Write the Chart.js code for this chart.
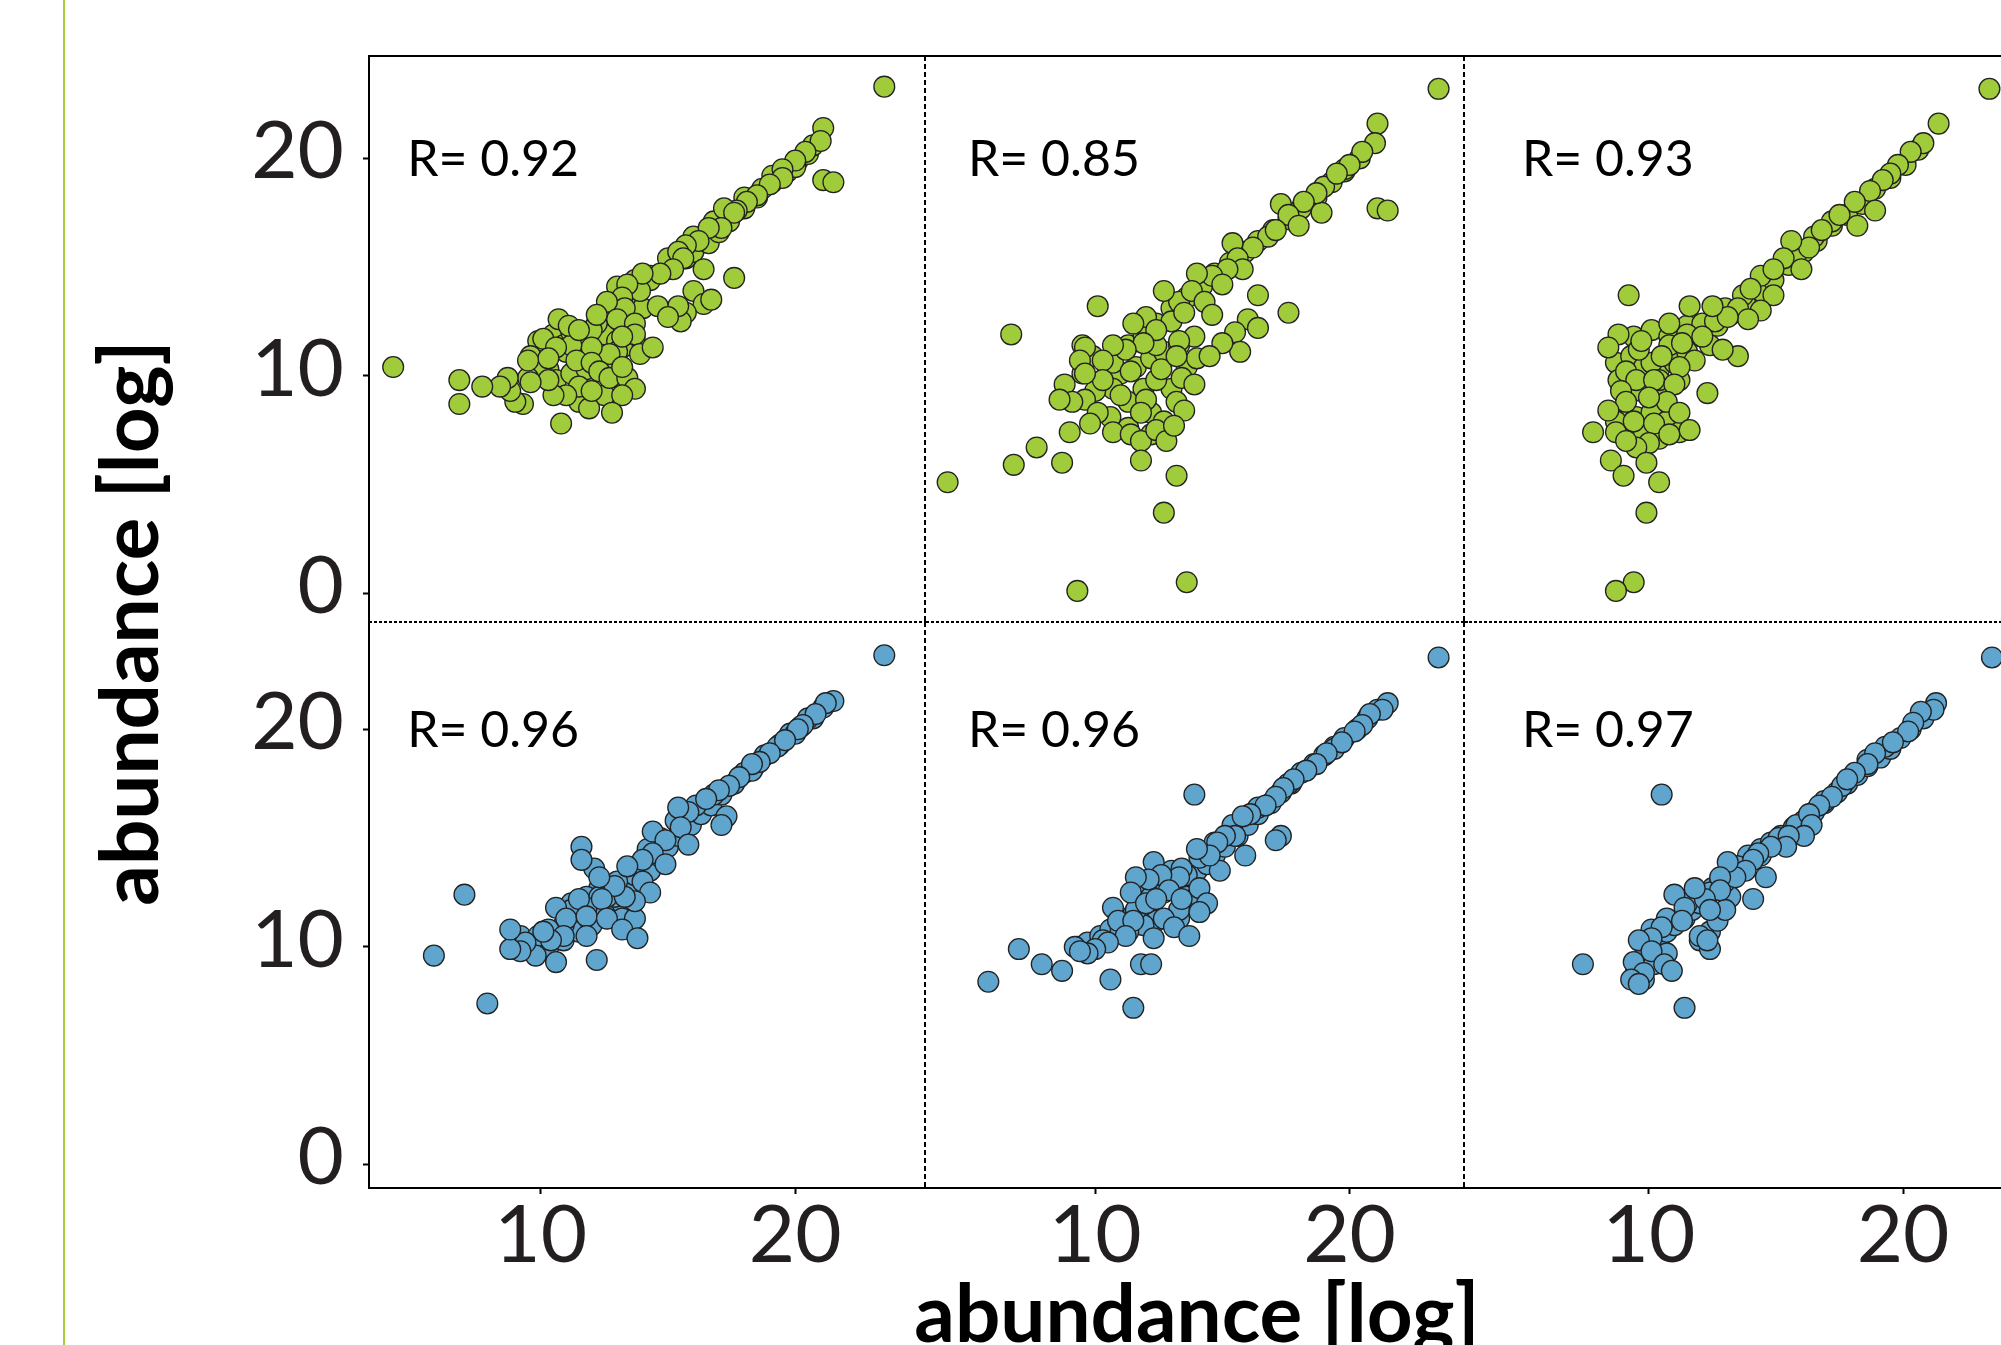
<!DOCTYPE html>
<html lang="en">
<head>
  <meta charset="UTF-8">
  <title>abundance [log]</title>
  <style>
    html, body {
      margin: 0;
      padding: 0;
      background: #fff;
      overflow: hidden;
    }
    body {
      position: relative;
      width: 2001px;
      height: 1345px;
      font-family: Lato, sans-serif;
    }
    .side-rule {
      position: absolute;
      left: 63px;
      top: 0;
      width: 2px;
      height: 1345px;
      background: #a5cd39;
    }
    .panel {
      position: absolute;
    }
    .axis-title {
      position: absolute;
      width: 700px;
      height: 80px;
      font-family: Lato, sans-serif;
      font-weight: 700;
      font-size: 80px;
      line-height: 80px;
      color: #000;
      text-align: center;
      white-space: nowrap;
    }
    #xTitle { left: 847px; top: 1271px; }
    #yTitle { left: -223px; top: 583px; transform: rotate(-90deg); }
  </style>
</head>
<body>
  <div class="side-rule"></div>
  <div class="axis-title" id="xTitle">abundance [log]</div>
  <div class="axis-title" id="yTitle">abundance [log]</div>

<script src="https://cdn.jsdelivr.net/npm/chart.js/dist/chart.umd.min.js"></script>
<script>
  // tick labels
  const xTicks = [10, 20];
  const yTicks = [0, 10, 20];

  // correlation shown in each panel (top row green, bottom row blue)
  const rValues = [0.92, 0.85, 0.93, 0.96, 0.96, 0.97];

  // points, [x, y]
  const greenA = [
    [9.9,11.6],[10.5,11.9],[10.9,11.4],[11.2,12.0],[11.8,11.6],[12.5,11.9],[13.0,11.6],[13.5,12.1],[13.7,11.6],[13.5,13.1],
    [13.0,14.1],[13.7,14.4],[14.3,14.6],[15.0,14.9],[15.7,15.4],[16.0,15.7],[16.6,16.1],[17.0,16.6],[17.4,17.1],[18.0,17.7],
    [18.5,18.2],[19.1,18.9],[19.7,19.4],[20.1,19.9],[20.5,20.2],[9.6,10.9],[10.3,10.3],[10.6,9.8],[11.2,10.1],[11.8,10.4],
    [12.3,10.8],[12.9,10.6],[13.2,11.3],[12.0,10.1],[11.5,8.8],[12.5,9.1],[13.2,9.8],
    [18.0,18.2],[16.8,17.1],[16.0,16.4],[15.0,15.4],[14.3,14.4],[13.7,13.7],[12.9,13.1],[12.2,12.4],[11.6,11.8],[11.0,11.1],
    [10.0,10.4],[9.5,9.9],[11.8,10.3],[13.0,11.1],[12.0,12.1],[19.1,19.2],[20.0,19.6],[20.7,20.6],[14.0,13.1],[13.2,12.7],
    [23.5,23.3],[21.1,21.4],[21.0,20.8],[20.4,20.3],[20.0,19.9],[19.5,19.5],[19.5,19.1],[21.1,19.0],[21.5,18.9],[18.7,18.6],
    [19.0,18.8],[18.5,18.3],[18.1,18.0],[17.7,17.6],[17.2,17.7],[17.6,17.5],[17.1,16.8],[16.6,16.8],[16.2,16.2],[15.7,16.0],
    [15.4,15.7],[15.6,15.4],[15.2,14.9],[14.7,14.7],[16.4,14.9],[17.6,14.5],[16.0,13.9],[16.4,13.3],[16.7,13.5],[15.7,12.9],
    [15.5,12.5],[15.4,13.2],[14.6,13.2],[15.0,12.7],[13.9,13.9],[14.0,14.7],[13.4,14.2],[13.2,13.6],[13.3,13.1],[12.6,13.4],
    [12.2,12.8],[13.0,12.6],[13.7,12.4],[13.7,11.9],[13.2,11.8],[12.7,11.0],[12.0,11.3],[11.2,11.4],[10.7,12.6],[11.1,12.3],
    [11.5,12.1],[10.1,11.7],[10.6,11.3],[10.3,10.8],[9.5,10.7],[11.4,10.7],[12.0,10.6],[12.3,10.2],[12.7,9.9],[13.4,9.9],
    [13.9,11.0],[14.4,11.3],[13.2,10.4],[13.7,9.4],[13.2,9.1],[12.8,8.3],[11.9,8.5],[11.5,9.5],[12.0,9.3],[11.0,9.1],
    [10.5,9.1],[10.3,9.8],[9.6,9.7],[9.3,8.7],[9.0,8.8],[8.8,9.3],[8.7,9.9],[8.4,9.5],[7.7,9.5],[6.8,9.8],
    [6.8,8.7],[10.8,7.8],[4.2,10.4]
  ];
  const greenB = [
    [9.5,11.4],[9.9,10.9],[10.5,10.4],[11.0,10.1],[11.6,10.4],[12.2,10.8],[12.7,11.1],[13.3,11.4],[13.9,11.8],[11.3,11.4],
    [11.9,11.9],[12.4,12.4],[13.0,13.1],[13.6,13.6],[14.2,14.1],[14.7,14.7],[15.3,15.2],[15.9,15.7],[16.4,16.2],[17.0,16.7],
    [17.6,17.2],[18.1,17.7],[18.7,18.2],[19.3,18.9],[19.8,19.4],[20.4,20.0],[10.7,9.4],[11.3,8.8],[12.2,8.3],[12.7,7.9],
    [11.9,9.4],[13.0,9.4],[13.6,10.4],[14.0,10.8],[9.5,10.1],[10.0,9.3],[10.6,8.1],[11.3,7.6],[12.2,7.3],
    [16.8,16.4],[19.0,18.7],[19.8,19.5],[13.3,13.4],[12.0,12.7],[10.7,10.6],[12.4,11.4],[13.3,11.6],[12.4,9.8],[9.6,8.9],
    [23.5,23.2],[21.1,21.6],[21.0,20.7],[20.5,20.3],[20.0,19.7],[19.5,19.3],[21.1,17.7],[21.5,17.6],[18.9,17.5],[18.7,18.4],
    [18.2,18.0],[17.3,17.9],[17.6,17.4],[18.0,16.9],[17.1,16.7],[16.2,15.9],[15.4,16.1],[15.6,15.4],[15.8,14.9],[15.2,14.9],
    [14.6,14.6],[15.0,14.2],[14.0,14.7],[13.8,13.9],[14.3,13.4],[14.6,12.8],[16.4,13.7],[17.6,12.9],[16.0,12.6],[16.4,12.2],
    [15.5,12.0],[15.7,11.1],[15.0,11.5],[14.5,10.9],[12.7,13.9],[13.0,12.5],[13.5,12.9],[12.4,12.1],[11.9,11.5],[11.5,12.4],
    [11.2,11.2],[10.7,11.4],[10.1,13.2],[9.6,11.3],[9.4,10.7],[10.3,10.7],[11.4,10.2],[12.6,10.3],[13.2,10.9],[13.4,9.9],
    [13.9,9.6],[10.3,9.8],[9.6,10.1],[8.8,9.6],[9.1,8.8],[8.6,8.9],[11.0,9.1],[12.0,8.9],[13.2,8.8],[13.5,8.4],
    [11.8,8.3],[10.1,8.3],[9.8,7.8],[9.0,7.4],[10.7,7.4],[11.4,7.3],[11.8,7.0],[12.4,7.5],[12.8,7.0],[13.1,7.7],
    [6.7,11.9],[7.7,6.7],[6.8,5.9],[8.7,6.0],[4.2,5.1],[11.8,6.1],[13.2,5.4],[12.7,3.7],[9.3,0.1],[13.6,0.5]
  ];
  const greenC = [
    [8.7,10.6],[9.3,10.9],[9.8,10.4],[10.4,10.3],[11.0,10.6],[11.5,11.1],[12.1,11.8],[12.7,12.3],[13.2,12.8],[13.8,13.3],
    [14.4,13.9],[14.9,14.4],[15.5,15.1],[16.1,15.7],[16.6,16.2],[17.2,16.9],[17.8,17.4],[18.4,17.9],[18.9,18.6],[19.5,19.1],
    [20.1,19.7],[20.6,20.4],[8.8,9.8],[9.5,9.4],[10.1,9.1],[10.7,9.4],[11.2,9.8],[9.0,8.3],[9.5,8.1],[10.1,8.3],
    [10.7,7.9],[8.7,7.9],[9.3,7.4],[9.8,7.3],[10.4,7.1],[11.2,7.4],[9.4,11.8],[10.1,12.1],[10.8,11.8],[11.5,12.3],
    [17.2,17.1],[16.5,16.4],[15.8,15.6],[14.4,14.6],[13.7,13.7],[13.0,13.1],[12.1,12.4],[11.5,11.9],[10.8,11.4],[10.1,10.6],
    [9.7,9.3],[10.4,9.8],[13.5,13.1],[12.4,11.4],[10.8,12.4],
    [23.4,23.2],[21.4,21.6],[20.8,20.7],[20.3,20.3],[19.8,19.7],[19.5,19.3],[19.2,19.0],[18.7,18.5],[18.1,18.0],[17.5,17.4],
    [18.9,17.6],[18.2,16.9],[16.8,16.7],[16.3,15.9],[15.6,16.2],[15.3,15.4],[14.9,14.9],[16.0,14.9],[14.9,13.7],[14.0,14.0],
    [14.4,13.0],[13.9,12.6],[13.5,10.9],[12.9,11.2],[12.6,12.5],[13.1,12.7],[12.5,13.2],[11.6,13.2],[12.1,11.8],[11.3,11.5],
    [11.8,10.7],[11.2,10.4],[10.5,10.9],[9.6,11.2],[9.7,11.6],[8.8,11.9],[8.4,11.3],[9.2,13.7],[9.1,10.2],[9.5,9.8],
    [10.2,9.8],[11.0,9.6],[12.3,9.2],[8.9,9.3],[10.7,8.8],[11.2,8.3],[10.0,9.0],[9.1,8.8],[8.4,8.4],[7.8,7.4],
    [8.7,7.4],[9.4,7.9],[10.2,7.8],[10.8,7.3],[11.6,7.5],[10.0,6.9],[9.5,6.7],[9.1,7.0],[8.5,6.1],[9.9,6.0],
    [9.0,5.4],[10.4,5.1],[9.9,3.7],[9.4,0.5],[8.7,0.1]
  ];
  const blueA = [
    [9.2,10.5],[9.8,10.3],[10.3,10.0],[10.9,10.3],[11.5,10.7],[12.0,11.0],[12.6,11.7],[13.2,12.0],[13.5,12.7],[14.0,13.2],
    [14.3,13.5],[14.6,14.2],[15.0,14.6],[15.4,15.1],[15.9,15.6],[16.3,16.1],[16.7,16.5],[17.1,17.0],[17.6,17.5],[18.0,18.0],
    [18.4,18.3],[18.8,18.8],[19.4,19.3],[19.8,19.8],[20.2,20.1],[20.7,20.5],[21.1,21.0],[12.3,12.7],[12.9,12.3],[11.8,12.3],
    [11.2,12.0],[12.0,11.7],[10.9,11.0],[10.1,10.7],[9.6,10.0],[13.2,11.3],[13.7,11.3],
    [19.3,19.2],[18.3,18.1],[16.8,17.0],[16.1,16.5],[15.3,15.8],[14.7,15.0],[14.2,14.5],[13.7,13.3],[13.0,13.0],[12.3,12.3],
    [11.8,11.8],[11.2,11.7],[10.3,10.8],[9.9,10.5],[12.6,12.3],[14.0,13.0],[20.0,19.8],[20.5,20.5],
    [23.5,23.4],[21.5,21.3],[21.2,21.2],[20.8,20.7],[20.3,20.2],[20.1,20.0],[19.6,19.5],[19.0,18.9],[18.6,18.5],[18.3,18.4],
    [17.8,17.8],[17.4,17.4],[17.0,17.2],[16.5,16.8],[17.3,16.0],[17.1,15.6],[15.8,16.2],[15.4,16.4],[15.5,15.5],[15.8,14.7],
    [14.4,15.3],[14.9,14.9],[14.4,14.3],[14.9,13.8],[14.0,14.0],[13.4,13.7],[14.3,12.5],[13.7,12.1],[13.3,12.3],[12.9,12.8],
    [12.4,12.2],[12.1,13.6],[11.6,14.6],[11.6,14.0],[12.3,13.2],[11.5,12.2],[10.6,11.8],[11.0,11.3],[11.8,11.4],[12.6,11.3],
    [13.2,10.8],[13.8,10.4],[12.2,9.4],[11.8,10.5],[10.9,10.5],[10.6,9.3],[10.4,10.3],[9.8,9.6],[9.4,10.2],[9.2,9.8],
    [8.8,9.9],[8.8,10.8],[10.1,10.7],[7.0,12.4],[5.8,9.6],[7.9,7.4]
  ];
  const blueB = [
    [9.3,10.0],[9.7,10.2],[10.2,10.5],[10.6,10.8],[11.0,11.2],[11.5,11.5],[11.9,11.8],[12.3,12.2],[12.7,12.5],[13.2,12.8],
    [13.6,13.0],[14.0,13.5],[14.4,13.8],[14.7,14.2],[15.1,14.6],[15.6,15.1],[16.0,15.6],[16.4,16.1],[16.9,16.6],[17.3,17.1],
    [17.7,17.5],[18.1,18.0],[18.6,18.4],[19.0,18.8],[19.4,19.2],[19.8,19.6],[20.3,20.0],[20.7,20.5],[21.1,20.9],[11.6,12.3],
    [11.9,13.0],[12.4,13.3],[13.0,13.5],[13.6,12.3],[14.0,12.3],[13.3,11.3],[12.4,11.2],[11.9,11.0],[11.3,10.7],
    [19.4,19.1],[17.6,17.5],[16.4,16.4],[15.4,15.6],[14.7,14.8],[14.1,14.1],[13.6,13.3],[13.0,12.8],[12.2,12.3],[11.6,11.7],
    [11.0,10.8],[10.3,10.3],[13.3,11.7],[14.1,12.3],
    [23.5,23.3],[21.5,21.2],[21.3,20.9],[20.8,20.7],[20.5,20.2],[20.2,19.9],[19.7,19.4],[19.1,18.9],[18.7,18.4],[18.3,18.1],
    [17.8,17.7],[17.4,17.3],[17.1,16.9],[16.7,16.5],[16.1,16.1],[15.8,16.0],[13.9,17.0],[17.3,15.1],[17.1,14.9],[15.5,15.1],
    [15.9,14.2],[15.1,15.1],[14.8,14.8],[14.9,13.5],[14.5,14.2],[14.0,14.5],[13.4,13.6],[13.3,13.2],[12.3,13.9],[12.6,13.3],
    [12.9,12.6],[12.1,13.1],[11.6,13.2],[11.4,12.5],[12.0,12.0],[12.4,12.2],[13.4,12.2],[14.1,12.7],[14.4,12.0],[14.1,11.6],
    [10.7,11.8],[10.9,11.2],[11.5,11.2],[12.7,11.3],[13.1,10.9],[13.7,10.5],[12.3,10.4],[11.2,10.5],[10.5,10.2],[10.0,9.9],
    [9.7,9.7],[9.2,10.0],[9.4,9.8],[8.7,8.9],[7.9,9.2],[7.0,9.9],[5.8,8.4],[10.6,8.5],[11.8,9.2],[12.2,9.2],
    [11.5,7.2]
  ];
  const blueC = [
    [9.5,9.0],[9.8,9.5],[10.1,10.0],[10.4,10.3],[10.7,10.7],[11.0,11.0],[11.4,11.3],[11.7,11.7],[12.0,12.0],[12.2,12.3],
    [12.5,12.7],[12.8,13.0],[13.1,13.3],[13.4,13.5],[13.7,13.8],[13.9,14.2],[14.4,14.5],[14.8,14.8],[15.2,15.1],[15.7,15.5],
    [16.1,15.8],[16.5,16.2],[16.9,16.6],[17.4,17.1],[17.8,17.5],[18.2,17.9],[18.6,18.3],[19.1,18.7],[19.5,19.1],[19.9,19.6],
    [20.3,20.0],[20.8,20.5],[12.4,10.7],[12.7,11.2],[12.0,10.3],[10.7,9.7],[10.2,9.2],[9.8,8.5],[13.2,12.3],[13.0,11.7],
    [19.3,19.2],[17.6,17.4],[16.9,16.7],[15.8,15.6],[15.1,15.0],[14.4,14.2],[13.5,13.7],[13.0,13.0],[12.4,12.5],[11.5,12.0],
    [10.7,11.3],[10.1,10.8],[18.6,18.6],
    [23.5,23.3],[21.3,21.2],[21.2,20.9],[20.7,20.8],[20.4,20.3],[20.2,19.9],[19.6,19.4],[18.9,18.9],[18.6,18.4],[18.1,18.0],
    [17.8,17.7],[17.2,16.9],[16.7,16.5],[16.3,16.1],[16.4,15.6],[16.1,15.1],[15.5,15.1],[15.4,14.6],[14.8,14.6],[14.3,14.3],
    [14.1,14.0],[14.6,13.2],[13.8,13.5],[13.4,13.2],[13.1,13.9],[12.8,13.2],[12.8,12.6],[12.2,12.2],[12.4,11.7],[14.1,12.2],
    [11.8,12.7],[11.0,12.4],[11.4,11.8],[11.3,11.2],[10.5,10.9],[12.0,10.5],[12.4,9.9],[12.3,10.3],[10.1,10.4],[9.6,10.3],
    [10.1,9.8],[9.4,9.3],[9.8,8.8],[10.6,9.2],[10.9,8.9],[9.3,8.5],[9.6,8.3],[7.4,9.2],[10.5,17.0],[11.4,7.2]
  ];

  const panels = [greenA, greenB, greenC, blueA, blueB, blueC];

  // facet geometry (page pixels) and free axis ranges
  const colLeft = [369, 926, 1464];
  const colWidth = [556, 538, 561];
  const rowTop = [56, 622];
  const rowHeight = [566, 566];
  const xRange = [[3.25, 25.1], [3.35, 24.5], [2.72, 24.8]];
  const yRange = [[-1.33, 24.71], [-1.08, 24.93]];
  const fills = ['#a0cb3a', '#5fa5ce'];
  const labelX = [4.75, 5.0, 5.0];
  const labelY = 19.2;

  const PAD = 4, YW = 200, XH = 140;
  const tickFont = { family: 'Lato', size: 80, lineHeight: 1 };

  // dashed facet separators, solid top edge and the R= text
  const facetPlugin = {
    id: 'facet',
    beforeDatasetsDraw(chart, args, opts) {
      const { ctx, chartArea: a } = chart;
      ctx.save();
      ctx.strokeStyle = '#000';
      if (opts.row === 0) {
        ctx.lineWidth = 2;
        ctx.beginPath();
        ctx.moveTo(a.left - (opts.col === 0 ? 1 : 0), a.top);
        ctx.lineTo(a.right + PAD, a.top);
        ctx.stroke();
      }
      ctx.lineWidth = 2;
      ctx.setLineDash([5, 3]);
      if (opts.col < 2) {
        ctx.beginPath();
        ctx.moveTo(a.right, a.top);
        ctx.lineTo(a.right, a.bottom);
        ctx.stroke();
      }
      if (opts.row === 0) {
        ctx.setLineDash([3, 2]);
        ctx.beginPath();
        ctx.moveTo(a.left, a.bottom);
        ctx.lineTo(a.right + PAD, a.bottom);
        ctx.stroke();
      }
      ctx.restore();
    },
    afterDatasetsDraw(chart, args, opts) {
      const { ctx, scales: { x, y } } = chart;
      ctx.save();
      ctx.font = '50px Lato';
      ctx.fillStyle = '#000';
      ctx.textBaseline = 'alphabetic';
      ctx.fillText('R= ' + rValues[opts.index].toFixed(2),
        x.getPixelForValue(labelX[opts.col]), y.getPixelForValue(labelY));
      ctx.restore();
    }
  };

  function buildPanel(pts, i) {
    const row = Math.floor(i / 3), col = i % 3;
    const showX = row === 1, showY = col === 0;
    const padL = showY ? YW : PAD;
    const padB = showX ? XH : PAD;

    const canvas = document.createElement('canvas');
    canvas.className = 'panel';
    canvas.width = colWidth[col] + padL + PAD;
    canvas.height = rowHeight[row] + PAD + padB;
    canvas.style.left = (colLeft[col] - padL) + 'px';
    canvas.style.top = (rowTop[row] - PAD) + 'px';
    document.body.appendChild(canvas);

    new Chart(canvas, {
      type: 'scatter',
      data: {
        datasets: [{
          data: pts.map(([x, y]) => ({ x, y })),
          backgroundColor: fills[row],
          borderColor: '#222',
          borderWidth: 1.3,
          pointRadius: 10.4,
          pointHoverRadius: 10.4
        }]
      },
      options: {
        responsive: false,
        devicePixelRatio: 1,
        animation: false,
        events: [],
        layout: {
          autoPadding: false,
          padding: { left: showY ? 0 : PAD, right: PAD, top: PAD, bottom: showX ? 0 : PAD }
        },
        scales: {
          x: {
            type: 'linear',
            min: xRange[col][0],
            max: xRange[col][1],
            display: showX,
            ticks: { font: tickFont, color: '#231f20', padding: 2, maxRotation: 0, autoSkip: false },
            grid: { drawOnChartArea: false, tickLength: 6, tickWidth: 2, tickColor: '#000' },
            border: { color: '#000', width: 2 },
            afterBuildTicks: s => { s.ticks = xTicks.map(v => ({ value: v })); },
            afterFit: s => {
              if (!showX) return;
              s.height = XH; s.paddingLeft = 0; s.paddingRight = 0;
            }
          },
          y: {
            type: 'linear',
            min: yRange[row][0],
            max: yRange[row][1],
            display: showY,
            ticks: { font: tickFont, color: '#231f20', padding: 19, labelOffset: -6 },
            grid: { drawOnChartArea: false, tickLength: 6, tickWidth: 2, tickColor: '#000' },
            border: { color: '#000', width: 2 },
            afterBuildTicks: s => { s.ticks = yTicks.map(v => ({ value: v })); },
            afterFit: s => {
              if (!showY) return;
              s.width = YW; s.paddingTop = 0; s.paddingBottom = 0;
            }
          }
        },
        plugins: {
          legend: { display: false },
          tooltip: { enabled: false },
          facet: { row, col, index: i }
        }
      },
      plugins: [facetPlugin]
    });
  }

  Promise.all([
    document.fonts.load('80px Lato'),
    document.fonts.load('bold 80px Lato')
  ]).catch(() => {}).then(() => panels.forEach(buildPanel));
</script>
</body>
</html>
